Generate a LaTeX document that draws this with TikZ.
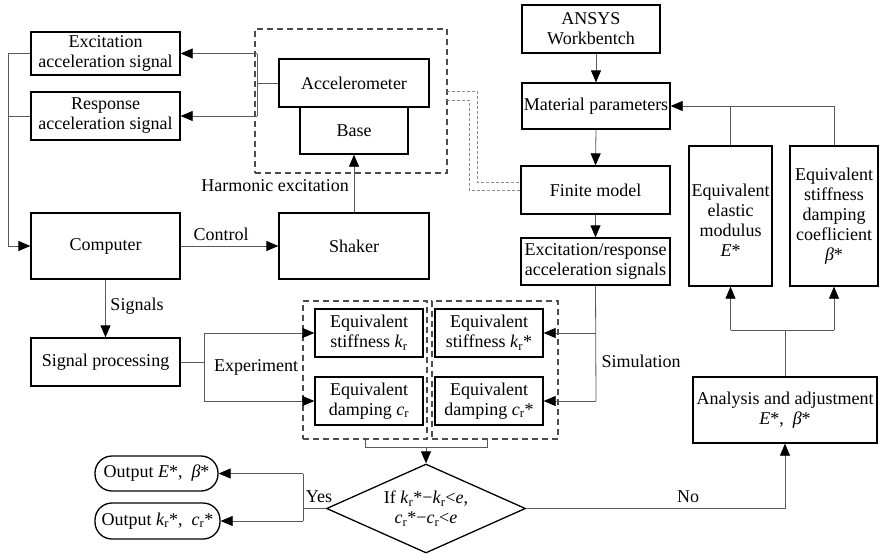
\documentclass[tikz,border=0pt]{standalone}
\usepackage{fontspec}
\setmainfont{Liberation Serif}
\usetikzlibrary{arrows.meta,shapes.geometric}
\newcommand{\fs}{\fontsize{18}{20}\selectfont}
\newcommand{\ksub}{\textit{k}\textsubscript{r}}
\newcommand{\csub}{\textit{c}\textsubscript{r}}
\begin{document}
\begin{tikzpicture}[x=1pt,y=-1pt,
  box/.style={draw, line width=1.3pt, inner sep=0pt, align=center, font=\fs},
  rbox/.style={box, rounded corners=17pt},
  dbox/.style={draw=black!70, line width=1.1pt, dash pattern=on 6pt off 4pt, inner sep=0pt},
  lbl/.style={inner sep=0pt, font=\fs},
  conn/.style={draw=black!65, line width=0.8pt},
  arr/.style={conn, -{Triangle[length=12pt,width=10pt,color=black]}},
  thin/.style={draw=black!45, line width=0.6pt, dash pattern=on 3pt off 2pt}
]
\useasboundingbox (0,0) rectangle (880,557);

% dashed group boxes
\node[dbox, minimum width=192pt, minimum height=144pt] (dtop) at (351,101) {};
\node[dbox, minimum width=124pt, minimum height=138pt] (dleft) at (365,370) {};
\node[dbox, minimum width=126pt, minimum height=138pt] (dright) at (495,370) {};

% left column
\node[box, minimum width=149pt, minimum height=43pt] (exc) at (105.5,53.5) {Excitation\\acceleration signal};
\node[box, minimum width=149pt, minimum height=48pt] (resp) at (105.5,116) {Response\\acceleration signal};
\node[box, minimum width=149pt, minimum height=66pt] (comp) at (105.5,246) {Computer};
\node[box, minimum width=149pt, minimum height=48pt] (sigp) at (105.5,362) {Signal processing};

% test rig
\node[box, minimum width=150pt, minimum height=48pt] (acc) at (354,83) {Accelerometer};
\node[box, minimum width=108pt, minimum height=47pt] (base) at (354,130.5) {Base};
\node[box, minimum width=150pt, minimum height=66pt] (shaker) at (354,246) {Shaker};

% equivalent parameter boxes
\node[box, minimum width=108pt, minimum height=48pt] (ks) at (369,333) {Equivalent\\stiffness \ksub};
\node[box, minimum width=108pt, minimum height=48pt] (cs) at (369,401) {Equivalent\\damping \csub};
\node[box, minimum width=108pt, minimum height=48pt] (kss) at (489,333) {Equivalent\\stiffness \ksub*};
\node[box, minimum width=108pt, minimum height=48pt] (css) at (489,401) {Equivalent\\damping \csub*};

% simulation column
\node[box, minimum width=138pt, minimum height=48pt] (ansys) at (591,29) {ANSYS\\Workbentch};
\node[box, minimum width=148pt, minimum height=46pt] (mat) at (596,106) {Material parameters};
\node[box, minimum width=149pt, minimum height=48pt] (fin) at (595.5,190) {Finite model};
\node[box, minimum width=149pt, minimum height=47pt] (exre) at (595.5,261.5) {Excitation/response\\acceleration signals};

% right column
\node[box, minimum width=83pt, minimum height=140pt] (emod) at (730.5,216) {\mbox{}\\Equivalent\\elastic\\modulus\\\textit{E}*};
\node[box, minimum width=88pt, minimum height=140pt] (beta) at (834,216) {Equivalent\\stiffness\\damping\\coeflicient\\\textit{β}*};
\node[box, minimum width=184pt, minimum height=66pt] (ana) at (785,410) {Analysis and adjustment\\\textit{E}*,~ \textit{β}*};

% decision and outputs
\node[draw, diamond, aspect=2.2, line width=1.3pt, inner sep=0pt, minimum width=199pt, minimum height=89pt, align=center, font=\fs] (dec) at (426,508.5) {If \ksub*−\ksub<\textit{e},\\\csub*−\csub<\textit{e}};
\node[rbox, minimum width=123pt, minimum height=35pt] (out1) at (156.5,473.5) {Output \textit{E}*,~ \textit{β}*};
\node[rbox, minimum width=125pt, minimum height=36pt] (out2) at (157.5,521) {Output \ksub*,~ \csub*};

% labels
\node[lbl] (lharm) at (275,186) {Harmonic excitation};
\node[lbl] (lctrl) at (221,234) {Control};
\node[lbl] (lsig) at (137,306) {Signals};
\node[lbl] (lexp) at (256,367) {Experiment};
\node[lbl] (lsim) at (641,361) {Simulation};
\node[lbl] (lyes) at (319,497) {Yes};
\node[lbl] (lno) at (688,497) {No};

% coordinates
\coordinate (lx1) at (8,53.5);
\coordinate (lx2) at (8,116);
\coordinate (ax1) at (257,53.5);
\coordinate (ax2) at (257,116);
\coordinate (ax3) at (257,83);
\coordinate (ex1) at (204,333);
\coordinate (ex2) at (204,401);
\coordinate (ex0) at (204,362);
\coordinate (sm1) at (596,333);
\coordinate (sm2) at (596,401);
\coordinate (brr) at (487,447);
\coordinate (brm) at (426,447);
\coordinate (br0) at (487,439);
\coordinate (yx) at (303,508.5);
\coordinate (y1) at (303,473.5);
\coordinate (y2) at (303,521);
\coordinate (nx) at (785,508.5);
\coordinate (aj) at (785,330);
\coordinate (aj1) at (730.5,330);
\coordinate (aj2) at (834,330);
\coordinate (tp1) at (730.5,106);
\coordinate (tp2) at (834,106);
\coordinate (d1a) at (447,91);
\coordinate (d1b) at (477,91);
\coordinate (d1c) at (477,182);
\coordinate (d1d) at (521,182);
\coordinate (d2a) at (447,100);
\coordinate (d2b) at (469,100);
\coordinate (d2c) at (469,190);

% left loop
\draw[conn] (exc.west) -- (lx1);
\draw[conn] (resp.west) -- (lx2);
\draw[arr] (lx1) |- (comp.west);
\draw[conn] (acc.west) -- (ax3);
\draw[conn] (ax1) -- (ax2);
\draw[arr] (ax1) -- (exc.east);
\draw[arr] (ax2) -- (resp.east);
\draw[arr] (shaker.north) -- (base.south);
\draw[arr] (comp.east) -- (shaker.west);
\draw[arr] (comp.south) -- (sigp.north);

% experiment branch
\draw[conn] (sigp.east) -- (ex0);
\draw[conn] (ex1) -- (ex2);
\draw[arr] (ex1) -- (ks.west);
\draw[arr] (ex2) -- (cs.west);

% simulation column
\draw[arr] (ansys.south -| mat.north) -- (mat.north);
\draw[arr] (mat.south) -- (fin.north);
\draw[arr] (fin.south) -- (exre.north);
\draw[conn] (exre.south) -- (sm2);
\draw[arr] (sm1) -- (kss.east);
\draw[arr] (sm2) -- (css.east);

% bracket to decision
\draw[conn] (dleft.south) |- (brr) -- (br0);
\draw[arr] (brm) -- (dec.north);

% yes branch
\draw[conn] (dec.west) -- (yx);
\draw[conn] (y1) -- (y2);
\draw[arr] (y1) -- (out1.east);
\draw[arr] (y2) -- (out2.east);

% no branch
\draw[arr] (dec.east) -- (nx) -- (ana.south);
\draw[conn] (ana.north) -- (aj);
\draw[conn] (aj1) -- (aj2);
\draw[arr] (aj1) -- (emod.south);
\draw[arr] (aj2) -- (beta.south);
\draw[conn] (emod.north) -- (tp1);
\draw[arr] (beta.north) -- (tp2) -- (mat.east);

% finite model link
\draw[thin] (d1a) -- (d1b) -- (d1c) -- (d1d);
\draw[thin] (d2a) -- (d2b) -- (d2c) -- (fin.west);
\end{tikzpicture}
\end{document}
